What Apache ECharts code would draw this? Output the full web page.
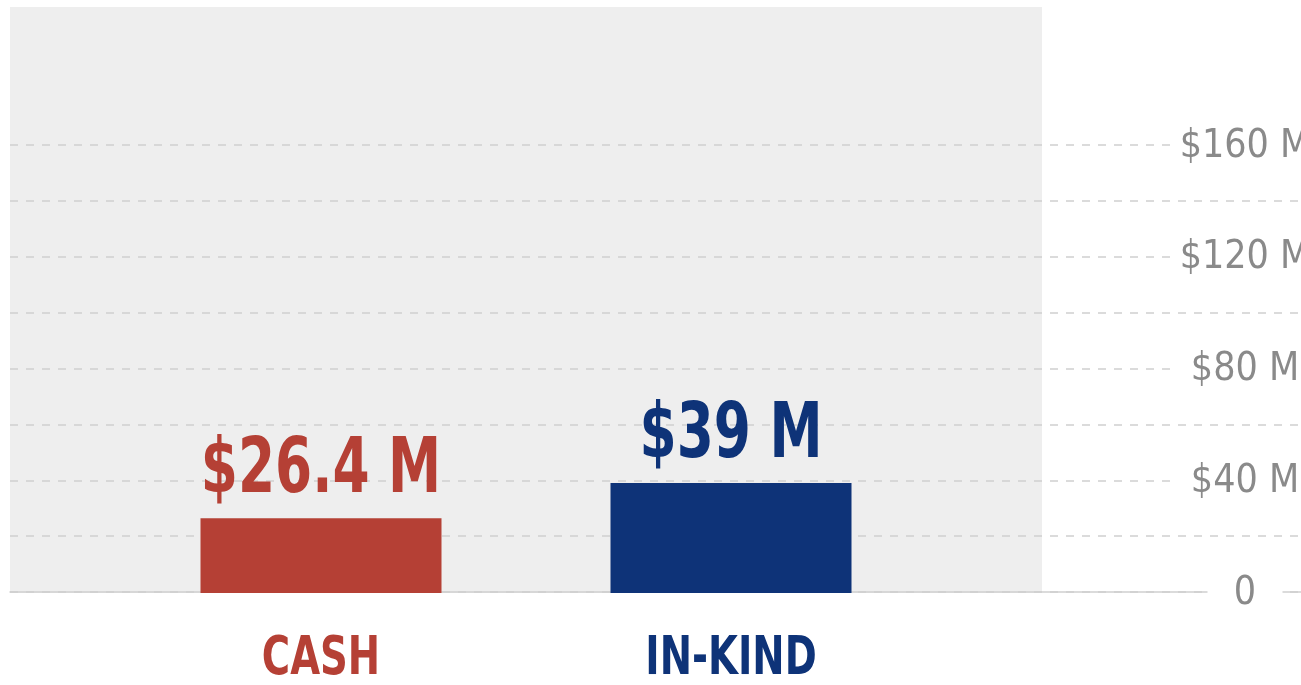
<!DOCTYPE html>
<html>
<head>
<meta charset="utf-8">
<script src="https://cdn.jsdelivr.net/npm/echarts@6/dist/echarts.min.js"></script>
<style>
  html, body { margin: 0; padding: 0; background: #fff; }
  #main { width: 1301px; height: 685px; }
</style>
</head>
<body>
<div id="main"></div>
<script>
var categories = ['CASH', 'IN-KIND'];
var values = [26.4, 39];
var barColors = ['#b54035', '#0e3378'];
var yLabelTicks = [0, 40, 80, 120, 160];

// no narrow font installed, so the condensed face is squeezed a bit more
var FONT = '"DejaVu Sans Condensed", sans-serif';

var chart = echarts.init(document.getElementById('main'));

var barData = categories.map(function (c, i) {
    return [i, values[i]];
});

function renderBar(params, api) {
    var i = params.dataIndex;
    var v = api.value(1);
    var base = api.coord([api.value(0), 0]);
    var top = api.coord([api.value(0), v]);
    var bw = 241;
    return {
        type: 'group',
        children: [{
            type: 'rect',
            shape: { x: top[0] - bw / 2, y: top[1], width: bw, height: base[1] - top[1] + 1 },
            style: { fill: barColors[i] }
        }, {
            type: 'text',
            x: top[0], y: top[1] - 8,
            scaleX: 0.78,
            style: {
                text: '$' + v + ' M',
                fill: barColors[i],
                fontFamily: FONT, fontWeight: 'bold', fontSize: 76,
                align: 'center', verticalAlign: 'bottom'
            }
        }, {
            type: 'text',
            x: base[0], y: base[1] + 42,
            scaleX: 0.81,
            style: {
                text: categories[i],
                fill: barColors[i],
                fontFamily: FONT, fontWeight: 'bold', fontSize: 53,
                align: 'center', verticalAlign: 'top'
            }
        }]
    };
}

chart.setOption({
    animation: false,
    grid: [
        // grey panel behind the bars
        { left: 10, top: 7, width: 1032, height: 586, show: true, backgroundColor: '#eeeeee', borderWidth: 0, z: -1, outerBoundsMode: 'none' },
        // axis line / gridlines / labels
        { left: 10, right: 0, top: 145, bottom: 93, outerBoundsMode: 'none' },
        // bars
        { left: 116, right: 365, top: 145, bottom: 93, outerBoundsMode: 'none' }
    ],
    xAxis: [
        { gridIndex: 0, type: 'value', show: false },
        {
            gridIndex: 1, type: 'value', min: 0, max: 1,
            axisLine: { show: true, lineStyle: { color: '#d0d0d0', width: 1.5 } },
            axisTick: { show: false }, axisLabel: { show: false }, splitLine: { show: false }
        },
        {
            gridIndex: 2, type: 'category', data: categories,
            axisLine: { show: false }, axisTick: { show: false }, axisLabel: { show: false }
        }
    ],
    yAxis: [
        { gridIndex: 0, type: 'value', show: false },
        {
            gridIndex: 1, type: 'value', position: 'right', min: 0, max: 160, interval: 20,
            axisLine: { show: false }, axisTick: { show: false }, axisLabel: { show: false },
            splitLine: { show: true, lineStyle: { color: '#d0d0d0', type: [8, 8], width: 1.5 } }
        },
        {
            gridIndex: 1, type: 'value', position: 'right', min: 0, max: 160, interval: 20, z: 5,
            axisLine: { show: false }, axisTick: { show: false }, splitLine: { show: false },
            axisLabel: {
                inside: true,
                margin: 56,
                align: 'center',
                formatter: function (v) {
                    if (yLabelTicks.indexOf(v) < 0) return '';
                    return v === 0 ? '{z|0}' : '{m|$' + v + ' M}';
                },
                rich: {
                    z: { fontFamily: FONT, fontSize: 39, color: '#8a8a8a', backgroundColor: '#fff', width: 75, align: 'center', padding: [3, 0, 0, 0] },
                    m: { fontFamily: FONT, fontSize: 39, color: '#8a8a8a', backgroundColor: '#fff', width: 134, align: 'center', padding: [3, 0, 0, 0] }
                }
            }
        },
        { gridIndex: 2, type: 'value', min: 0, max: 160, show: false }
    ],
    series: [{
        type: 'custom',
        xAxisIndex: 2,
        yAxisIndex: 3,
        clip: false,
        encode: { x: 0, y: 1 },
        data: barData,
        renderItem: renderBar
    }]
});
</script>
</body>
</html>
